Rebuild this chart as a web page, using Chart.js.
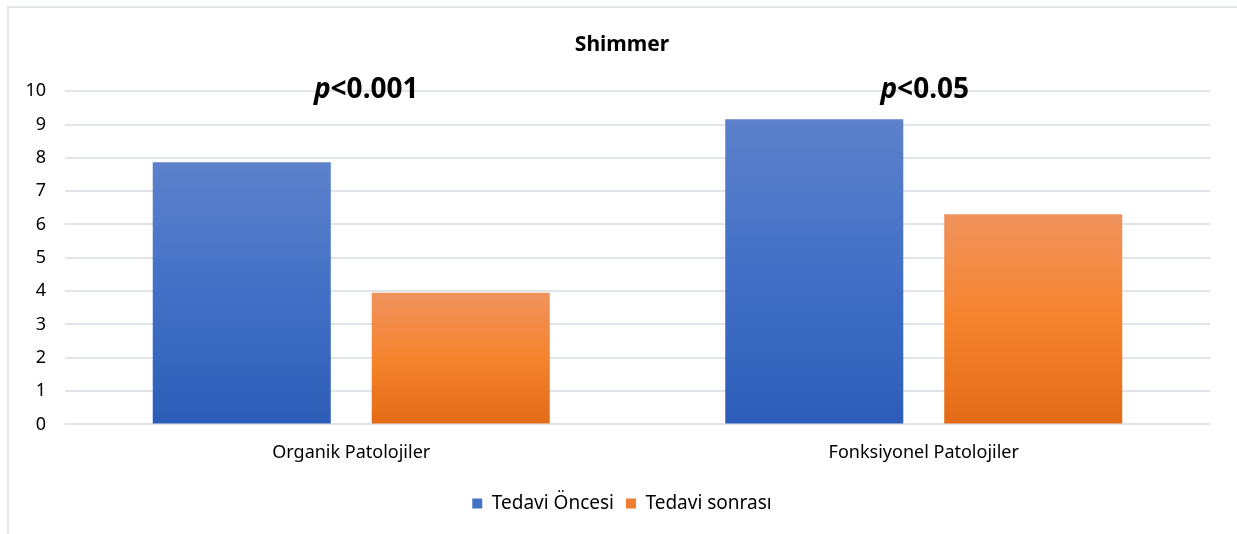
<!DOCTYPE html>
<html>
<head>
<meta charset="utf-8">
<script src="https://cdn.jsdelivr.net/npm/chart.js@4/dist/chart.umd.min.js"></script>
<style>
  html, body { margin: 0; padding: 0; background: #fff; }
  #wrap { position: relative; width: 1237px; height: 534px; }
  #frame { position: absolute; left: 7px; top: 6px; right: 0; bottom: 0; border-left: 2px solid #e3e6ea; border-top: 2px solid #e3e6ea; }
  canvas { position: absolute; left: 0; top: 0; }
</style>
</head>
<body>
<div id="wrap">
  <div id="frame"></div>
  <canvas id="grafico" width="1237" height="534"></canvas>
</div>
<script>
// datos
var categorias = ["Organik Patolojiler", "Fonksiyonel Patolojiler"];
var tedaviOncesi = [7.87, 9.16];
var tedaviSonrasi = [3.95, 6.31];
var pValores = ["<0.001", "<0.05"];
var ticksY = [0, 1, 2, 3, 4, 5, 6, 7, 8, 9, 10];

var fuente = "'Noto Sans', 'Liberation Sans', sans-serif";

// degradado por barra (como en Excel)
function degradado(colores, solido) {
  return function (c) {
    if (c.type !== 'data') return solido;
    var chart = c.chart;
    if (!chart.chartArea || !chart.scales.y) return solido;
    var y = chart.scales.y;
    var top = y.getPixelForValue(c.raw);
    var bot = y.getPixelForValue(0);
    var g = chart.ctx.createLinearGradient(0, top, 0, bot);
    g.addColorStop(0, colores[0]);
    g.addColorStop(0.5, colores[1]);
    g.addColorStop(1, colores[2]);
    return g;
  };
}

// texto p< encima de cada grupo
var pluginP = {
  id: 'pValores',
  afterDatasetsDraw: function (chart) {
    var ctx = chart.ctx;
    var x = chart.scales.x, y = chart.scales.y;
    var ajuste = [15, 1]; // pequeño corrimiento a mano, como en el original
    ctx.save();
    ctx.fillStyle = '#000';
    ctx.textBaseline = 'middle';
    for (var i = 0; i < pValores.length; i++) {
      var yy = y.getPixelForValue(ticksY[ticksY.length - 1]) - 1;
      ctx.font = "italic bold 28px " + fuente;
      var wp = ctx.measureText("p").width;
      ctx.font = "bold 28px " + fuente;
      var wr = ctx.measureText(pValores[i]).width;
      var x0 = x.getPixelForValue(i) - (wp + wr) / 2 + ajuste[i];
      ctx.font = "italic bold 28px " + fuente;
      ctx.fillText("p", x0, yy);
      ctx.font = "bold 28px " + fuente;
      ctx.fillText(pValores[i], x0 + wp, yy);
    }
    ctx.restore();
  }
};

var ctxG = document.getElementById('grafico').getContext('2d');
var grafico = new Chart(ctxG, {
  type: 'bar',
  data: {
    labels: categorias,
    datasets: [{
      label: "Tedavi Öncesi",
      data: tedaviOncesi,
      backgroundColor: degradado(["#5d81cb", "#4270c6", "#2d5db8"], "#4472c4"),
      borderWidth: 0
    }, {
      label: "Tedavi sonrası",
      data: tedaviSonrasi,
      backgroundColor: degradado(["#f0935e", "#f5832d", "#e36b17"], "#ed7d31"),
      borderWidth: 0
    }]
  },
  options: {
    responsive: false,
    animation: false,
    devicePixelRatio: 1,
    categoryPercentage: 0.765,
    barPercentage: 0.813,
    layout: { padding: { left: 22, right: 15, top: 32, bottom: 11 } },
    plugins: {
      title: {
        display: true,
        text: "Shimmer",
        color: "#000",
        font: { family: fuente, size: 21, weight: 'bold' },
        padding: { top: 0, bottom: 34 }
      },
      legend: {
        position: 'bottom',
        labels: {
          color: "#000",
          font: { family: fuente, size: 19 },
          boxWidth: 10,
          boxHeight: 10,
          padding: 12,
          generateLabels: function (chart) {
            var solidos = ["#4472c4", "#ed7d31"];
            return chart.data.datasets.map(function (d, i) {
              return { text: d.label, fillStyle: solidos[i], strokeStyle: solidos[i], lineWidth: 0, datasetIndex: i, hidden: false };
            });
          }
        }
      },
      tooltip: { enabled: false }
    },
    scales: {
      x: {
        grid: { display: false, drawTicks: false },
        border: { display: false },
        ticks: { color: "#000", font: { family: fuente, size: 18 }, padding: 18 }
      },
      y: {
        min: 0,
        max: 10,
        afterFit: function (s) { s.width = 43; },
        afterBuildTicks: function (s) { s.ticks = ticksY.map(function (v) { return { value: v }; }); },
        grid: { color: "#e1e4e8", lineWidth: 2, drawTicks: false },
        border: { display: false },
        ticks: { color: "#000", font: { family: fuente, size: 18 }, padding: 19 }
      },
      // eje vacío a la derecha, solo para dejar margen
      margen: {
        position: 'right',
        min: 0,
        max: 10,
        afterFit: function (s) { s.width = 12; },
        grid: { display: false, drawTicks: false },
        border: { display: false },
        ticks: { display: false }
      }
    }
  },
  plugins: [pluginP]
});
</script>
</body>
</html>
